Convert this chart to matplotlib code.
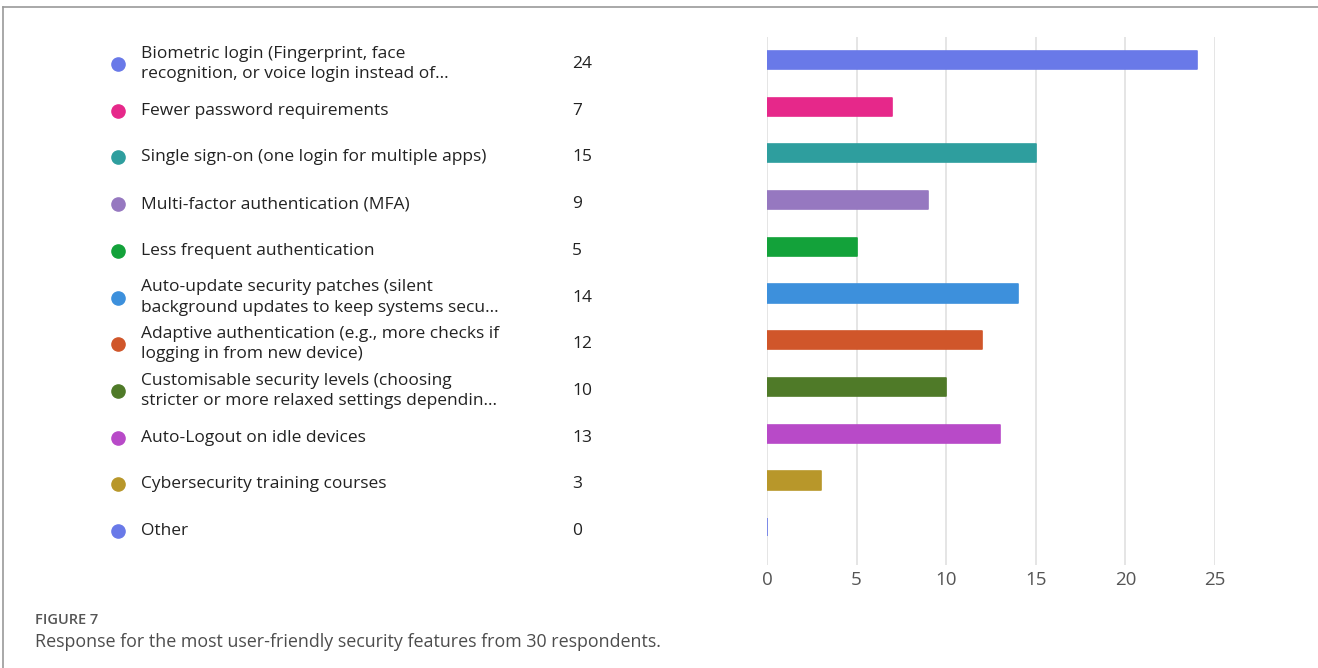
import matplotlib.pyplot as plt
from matplotlib.transforms import blended_transform_factory, ScaledTranslation

plt.rcParams['font.family'] = ['Open Sans', 'DejaVu Sans']

features = [
    "Biometric login (Fingerprint, face\nrecognition, or voice login instead of...",
    "Fewer password requirements",
    "Single sign-on (one login for multiple apps)",
    "Multi-factor authentication (MFA)",
    "Less frequent authentication",
    "Auto-update security patches (silent\nbackground updates to keep systems secu...",
    "Adaptive authentication (e.g., more checks if\nlogging in from new device)",
    "Customisable security levels (choosing\nstricter or more relaxed settings dependin...",
    "Auto-Logout on idle devices",
    "Cybersecurity training courses",
    "Other",
]
counts = [24, 7, 15, 9, 5, 14, 12, 10, 13, 3, 0]
colors = ["#6979e8", "#e6288a", "#2e9e9e", "#9678c0", "#13a23a", "#3d90dc",
          "#d0562a", "#4f7a28", "#b84ac8", "#b8972a", "#6979e8"]
xticks = [0, 5, 10, 15, 20, 25]

fig = plt.figure(figsize=(13.18, 6.68), dpi=100)
ax = fig.add_axes([767 / 1318, 1 - 565 / 668, (1215 - 767) / 1318, (565 - 37) / 668])

ypos = list(range(len(features)))
ax.barh(ypos, counts, height=0.39, color=colors, edgecolor=colors,
        linewidth=1.2, joinstyle="round", zorder=3)
ax.set_xlim(0, 25)
ax.set_ylim(10.81, -0.49)
ax.set_xticks(xticks)
ax.set_yticks([])
ax.grid(axis="x", color="#e0e0e0", linewidth=1.2, zorder=0)
for s in ax.spines.values():
    s.set_visible(False)
ax.tick_params(axis="x", length=0, pad=4, labelsize=13.5, labelcolor="#555555")

# legend-style rows: dot, label, count (sit a few pixels below the bar centres)
tr = blended_transform_factory(fig.transFigure, ax.transData) + \
    ScaledTranslation(0, -4 / 100, fig.dpi_scale_trans)
for y, lab, c, col in zip(ypos, features, counts, colors):
    ax.plot([118 / 1318], [y], transform=tr, marker="o", markersize=9.5,
            color=col, clip_on=False, linestyle="none")
    ax.text(141 / 1318, y, lab, transform=tr, ha="left", va="center",
            fontsize=12.5, color="#222222", linespacing=1.35, clip_on=False)
    ax.text(572 / 1318, y, str(c), transform=tr, ha="left", va="center",
            fontsize=12.5, color="#222222", clip_on=False)

# caption
fig.text(35 / 1318, 1 - 620 / 668, "FIGURE 7", fontsize=10.5, color="#555555",
         fontweight="semibold", ha="left", va="center")
fig.text(35 / 1318, 1 - 642 / 668,
         "Response for the most user-friendly security features from 30 respondents.",
         fontsize=12.9, color="#4d4d4d", ha="left", va="center")

# panel frame
fig.add_artist(plt.Line2D([3 / 1318, 1], [1 - 7 / 668, 1 - 7 / 668],
                          transform=fig.transFigure, color="#9a9a9a", linewidth=1.2))
fig.add_artist(plt.Line2D([3 / 1318, 3 / 1318], [0, 1 - 7 / 668],
                          transform=fig.transFigure, color="#9a9a9a", linewidth=1.2))

fig.savefig("out.png", dpi=100)
